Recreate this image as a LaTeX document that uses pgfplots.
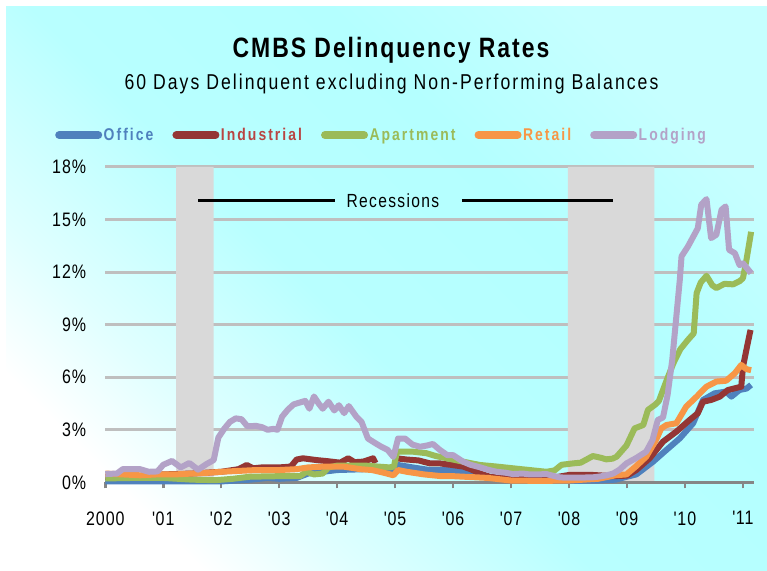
\documentclass[border=0pt]{standalone}
\usepackage{fontspec}
\usepackage{pgfplots}
\pgfplotsset{compat=1.18}
\setmainfont{Liberation Sans}
\newfontfamily\nf[FakeStretch=0.82, LetterSpace=5, Ligatures=TeXOff]{Liberation Sans}
\newfontfamily\subfnt[FakeStretch=0.82, LetterSpace=9.5, Ligatures=TeXOff]{Liberation Sans}
\newfontfamily\titfnt[FakeStretch=0.82, LetterSpace=7, Ligatures=TeXOff]{Liberation Sans}
\newfontfamily\lf[FakeStretch=0.82, LetterSpace=12, Ligatures=TeXOff]{Liberation Sans}
\definecolor{officeC}{HTML}{4F81BD}
\definecolor{indC}{HTML}{943634}
\definecolor{indT}{HTML}{B94442}
\definecolor{aptC}{HTML}{9BBB59}
\definecolor{retC}{HTML}{F79646}
\definecolor{lodC}{HTML}{B3A2C7}
\definecolor{gridC}{HTML}{BFBFBF}
\definecolor{axC}{HTML}{868686}
\definecolor{recC}{HTML}{D9D9D9}
\definecolor{bgA}{HTML}{E0FFFF}
\definecolor{bgB}{HTML}{B8FFFF}
\definecolor{bgC}{HTML}{B4FFFF}
\definecolor{bgD}{HTML}{C6FFFF}
\pgfdeclarehorizontalshading{bgshade}{100bp}{color(0bp)=(white); color(25bp)=(white); color(33bp)=(bgA); color(46bp)=(bgB); color(62bp)=(bgC); color(75bp)=(bgD); color(100bp)=(bgD)}
\begin{document}
\begin{tikzpicture}[x=1pt,y=1pt]
\fill[white] (0,0) rectangle (767,570);
\shade[shading=bgshade, shading angle=45] (6,0) rectangle (767,563);
\node[anchor=base, font=\titfnt\bfseries\fontsize{28}{32}\selectfont] at (391,512.7) {CMBS Delinquency Rates};
\node[anchor=base, font=\subfnt\fontsize{21.5}{24}\selectfont] at (391.5,480) {60 Days Delinquent excluding Non-Performing Balances};
\begin{axis}[
  at={(105.3pt,87.7pt)}, anchor=south west,
  scale only axis, width=648.7pt, height=315.3pt,
  xmin=2000, xmax=2011.19, ymin=0, ymax=18,
  clip=false,
  axis line style={draw=none},
  xtick={2000,...,2011},
  xticklabels={2000,{\textquotesingle}01,{\textquotesingle}02,{\textquotesingle}03,{\textquotesingle}04,{\textquotesingle}05,{\textquotesingle}06,{\textquotesingle}07,{\textquotesingle}08,{\textquotesingle}09,{\textquotesingle}10,{\textquotesingle}11},
  ytick={0,3,6,9,12,15,18},
  yticklabels={0\%,3\%,6\%,9\%,12\%,15\%,18\%},
  ymajorgrids, major grid style={draw=gridC, line width=3pt},
  tick pos=left,
  xtick style={draw=axC, line width=2.5pt},
  ytick style={draw=none},
  tick align=outside, major tick length=6pt,
  ticklabel style={font=\nf\fontsize{19.5}{22}\selectfont},
  yticklabel style={anchor=east, inner sep=0pt, xshift=-13pt},
  xticklabel style={anchor=north, inner sep=0pt, yshift=-23pt},
  unbounded coords=jump,
  legend columns=5,
  legend style={at={(-0.0775,1.1015)}, anchor=west, draw=none, fill=none, inner sep=0pt,
    font=\lf\bfseries\fontsize{17}{20}\selectfont, nodes={inner sep=0pt},
    /tikz/every odd column/.append style={column sep=1.5pt},
    /tikz/every even column/.append style={column sep=19pt}},
  legend image code/.code={\draw[#1, line width=8pt, line cap=round] (0pt,0pt) -- (39pt,0pt);},
  every axis plot/.append style={line width=6pt, line join=round},
]
\addplot[fill=recC, draw=none, forget plot] coordinates {(2001.22,0) (2001.22,18) (2001.87,18) (2001.87,0)} \closedcycle;
\addplot[fill=recC, draw=none, forget plot] coordinates {(2007.98,0) (2007.98,18) (2009.47,18) (2009.47,0)} \closedcycle;
\draw[axC, line width=3pt] (axis cs:2000,0) -- (axis cs:2011.19,0);
\draw[black, line width=2.5pt] (axis cs:2001.6,16.1) -- (axis cs:2003.96,16.1);
\draw[black, line width=2.5pt] (axis cs:2006.15,16.1) -- (axis cs:2008.75,16.1);
\node[anchor=base, font=\titfnt\fontsize{19}{22}\selectfont] at (axis cs:2004.96,15.71) {Recessions};
% Office
\addplot[officeC] coordinates {
(2000.00,0.05) (2001.00,0.05) (2002.00,0.05) (2002.50,0.15) (2002.80,0.25) (2003.00,0.20)
(2003.30,0.25) (2003.50,0.50) (2004.00,0.70) (2004.50,0.75) (2004.95,0.70) (2005.03,1.00)
(2005.30,0.85) (2005.60,0.70) (2005.90,0.70) (2006.17,0.60) (2006.46,0.32) (2006.80,0.22)
(2007.20,0.15) (2007.60,0.12) (2008.00,0.08) (2008.50,0.10) (2008.80,0.15) (2009.00,0.32)
(2009.16,0.45) (2009.30,0.80) (2009.45,1.18) (2009.68,1.85) (2009.91,2.51) (2010.14,3.37)
(2010.31,4.70) (2010.51,5.08) (2010.71,5.18) (2010.80,4.89) (2010.94,5.27) (2011.06,5.35)
(2011.14,5.56)};
\addlegendentry{\textcolor{officeC}{Office}}
% Industrial
\addplot[indC] coordinates {
(2000.00,0.30) (2000.50,0.35) (2001.00,0.45) (2001.50,0.50) (2002.00,0.60) (2002.30,0.75)
(2002.44,0.99) (2002.55,0.80) (2002.70,0.85) (2003.06,0.86) (2003.20,0.90) (2003.30,1.30)
(2003.41,1.37) (2003.64,1.27) (2003.85,1.20) (2004.05,1.12) (2004.19,1.37) (2004.30,1.15)
(2004.45,1.18) (2004.62,1.37) (2004.66,1.10) (2004.85,nan)
(2005.02,1.37) (2005.20,1.30) (2005.40,1.25) (2005.60,1.08) (2005.77,1.08) (2005.95,1.00)
(2006.17,0.90) (2006.30,0.75) (2006.46,0.51) (2006.63,0.32) (2006.90,0.25) (2007.30,0.22)
(2007.70,0.25) (2008.00,0.42) (2008.40,0.42) (2008.76,0.35) (2009.00,0.38) (2009.16,0.70)
(2009.39,1.37) (2009.62,2.32) (2009.85,2.89) (2010.08,3.56) (2010.22,3.94) (2010.31,4.60)
(2010.45,4.70) (2010.60,4.89) (2010.74,5.27) (2010.97,5.46) (2011.00,6.60) (2011.07,7.75)
(2011.13,8.70)};
\addlegendentry{\textcolor{indT}{Industrial}}
% Apartment
\addplot[aptC] coordinates {
(2000.00,0.22) (2000.50,0.25) (2001.00,0.25) (2001.50,0.15) (2001.90,0.12) (2002.20,0.20)
(2002.50,0.32) (2003.00,0.35) (2003.36,0.35) (2003.47,0.60) (2003.60,0.45) (2003.75,0.50)
(2003.85,0.85) (2004.00,0.95) (2004.50,0.95) (2004.90,0.85) (2004.98,0.90) (2005.03,1.75)
(2005.30,1.75) (2005.54,1.66) (2005.70,1.50) (2005.89,1.37) (2006.17,1.18) (2006.46,0.99)
(2006.75,0.90) (2007.03,0.80) (2007.32,0.70) (2007.61,0.60) (2007.75,0.68) (2007.87,1.00)
(2008.07,1.08) (2008.20,1.12) (2008.30,1.30) (2008.41,1.50) (2008.55,1.40) (2008.64,1.31)
(2008.75,1.35) (2008.82,1.46) (2008.99,2.10) (2009.13,3.08) (2009.28,3.27) (2009.36,4.13)
(2009.48,4.42) (2009.55,4.65) (2009.68,5.80) (2009.80,6.80) (2009.92,7.60) (2010.05,8.13)
(2010.15,8.50) (2010.20,10.80) (2010.27,11.40) (2010.37,11.79) (2010.47,11.25) (2010.54,11.09)
(2010.68,11.33) (2010.83,11.30) (2010.95,11.50) (2011.00,11.66) (2011.06,12.70) (2011.14,14.30)};
\addlegendentry{\textcolor{aptC}{Apartment}}
% Retail
\addplot[retC] coordinates {
(2000.00,0.50) (2000.30,0.45) (2000.60,0.40) (2000.90,0.45) (2001.20,0.45) (2001.50,0.50)
(2001.80,0.55) (2002.00,0.60) (2002.30,0.65) (2002.60,0.70) (2003.00,0.70) (2003.30,0.75)
(2003.50,0.85) (2003.80,0.90) (2004.10,0.90) (2004.40,0.75) (2004.60,0.70) (2004.80,0.55)
(2004.97,0.40) (2005.05,0.70) (2005.20,0.60) (2005.50,0.45) (2005.80,0.35) (2006.00,0.35)
(2006.30,0.30) (2006.60,0.25) (2007.00,0.10) (2007.50,0.08) (2008.00,0.10) (2008.50,0.20)
(2008.80,0.40) (2008.99,0.45) (2009.15,0.90) (2009.33,1.46) (2009.50,2.42) (2009.59,3.08)
(2009.68,3.27) (2009.85,3.37) (2010.02,4.32) (2010.20,4.89) (2010.37,5.46) (2010.54,5.75)
(2010.71,5.80) (2010.86,6.23) (2010.97,6.70) (2011.06,6.46) (2011.14,6.40)};
\addlegendentry{\textcolor{retC}{Retail}}
% Lodging
\addplot[lodC] coordinates {
(2000.00,0.47) (2000.20,0.50) (2000.30,0.75) (2000.45,0.75) (2000.60,0.75) (2000.75,0.60)
(2000.90,0.62) (2001.00,1.00) (2001.15,1.22) (2001.30,0.85) (2001.45,1.10) (2001.60,0.72)
(2001.75,1.05) (2001.87,1.27) (2001.95,2.55) (2002.05,3.05) (2002.15,3.45) (2002.25,3.65)
(2002.35,3.60) (2002.45,3.20) (2002.60,3.22) (2002.70,3.15) (2002.80,3.00) (2002.90,3.05)
(2002.97,3.00) (2003.05,3.75) (2003.15,4.15) (2003.25,4.45) (2003.35,4.55) (2003.45,4.65)
(2003.52,4.20) (2003.60,4.90) (2003.68,4.50) (2003.75,4.20) (2003.85,4.60) (2003.95,4.10)
(2004.03,4.40) (2004.12,3.95) (2004.20,4.35) (2004.33,3.75) (2004.42,3.45) (2004.53,2.50)
(2004.65,2.25) (2004.75,2.05) (2004.87,1.85) (2004.97,1.45) (2005.05,2.50) (2005.17,2.50)
(2005.30,2.15) (2005.43,2.03) (2005.55,2.10) (2005.65,2.19) (2005.77,1.85) (2005.90,1.55)
(2006.00,1.55) (2006.17,1.18) (2006.30,1.00) (2006.46,0.86) (2006.60,0.72) (2006.75,0.60)
(2006.90,0.55) (2007.03,0.47) (2007.20,0.50) (2007.32,0.45) (2007.45,0.45) (2007.61,0.47)
(2007.75,0.35) (2007.84,0.28) (2008.00,0.26) (2008.20,0.27) (2008.40,0.28) (2008.53,0.33)
(2008.65,0.40) (2008.76,0.50) (2008.87,0.72) (2008.99,1.08) (2009.16,1.39) (2009.33,1.75)
(2009.44,2.42) (2009.53,3.56) (2009.62,3.70) (2009.70,5.00) (2009.78,7.00) (2009.85,9.46)
(2009.91,11.56) (2009.94,12.90) (2010.05,13.46) (2010.22,14.50) (2010.28,15.85) (2010.37,16.17)
(2010.45,13.94) (2010.54,14.13) (2010.63,15.56) (2010.70,15.75) (2010.76,13.27) (2010.86,13.08)
(2010.94,12.40) (2011.00,12.50) (2011.14,11.94)};
\addlegendentry{\textcolor{lodC}{Lodging}}
\end{axis}
\end{tikzpicture}
\end{document}
